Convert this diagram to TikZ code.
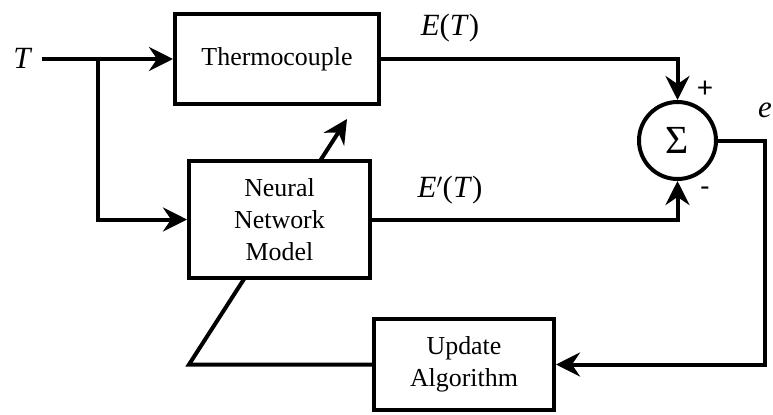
\documentclass[tikz,border=0pt]{standalone}
\usepackage{fontspec}
\setmainfont{Liberation Serif}
\newfontfamily\signfont{Carlito}
\usetikzlibrary{arrows.meta,backgrounds}
\begin{document}
\begin{tikzpicture}[x=1bp,y=-1bp,
  blk/.style={draw,line width=4bp,fill=white,inner sep=0pt,align=center,font=\fontsize{26}{32}\selectfont},
  conn/.style={line width=4bp},
  arr/.style={conn,-{Stealth[length=24bp,width=24bp,inset=8bp]}},
  mlab/.style={font=\fontsize{31}{36}\selectfont},
  sgn/.style={font=\signfont\fontsize{30}{34}\selectfont}]
\useasboundingbox (0,0) rectangle (773,414);
% blocks
\node[blk,minimum width=204bp,minimum height=90bp] (tc) at (277,59) {Thermocouple};
\node[blk,minimum width=181bp,minimum height=117bp] (nn) at (279.5,219.5) {Neural\\Network\\Model};
\node[blk,minimum width=180bp,minimum height=91bp] (up) at (464,364.5) {Update\\Algorithm};
\node[draw,circle,line width=4bp,fill=white,minimum size=77bp,inner sep=0pt,font=\fontsize{40}{44}\selectfont] (sum) at (677.5,140.5) {Σ};
% labels
\node[mlab] (tin) at (23,58) {\textit{T}};
\node[mlab] (et) at (450,28) {\textit{E}(\textit{T})};
\node[mlab] (ept) at (450,190) {\textit{E}$'$(\textit{T})};
\node[mlab] (err) at (765,110) {\textit{e}};
\node[sgn] (plus) at (705,89) {+};
\node[sgn] (minus) at (705,192) {-};
% coordinates
\coordinate (tstart) at (42,59);
\coordinate (br) at (98,59);
\coordinate (fbr) at (765,364.5);
\coordinate (fbl) at (189,364.5);
\coordinate (adapt) at (347,119);
% connectors
\draw[arr] (tstart) -- (tc.west);
\draw[arr] (br) |- (nn.west);
\draw[arr] (tc.east) -| (sum.north);
\draw[arr] (nn.east) -| (sum.south);
\draw[arr] (sum.east) -| (fbr) -- (up.east);
\begin{scope}[on background layer]
\draw[arr] (up.west) -- (fbl) -- (adapt);
\end{scope}
\end{tikzpicture}
\end{document}
